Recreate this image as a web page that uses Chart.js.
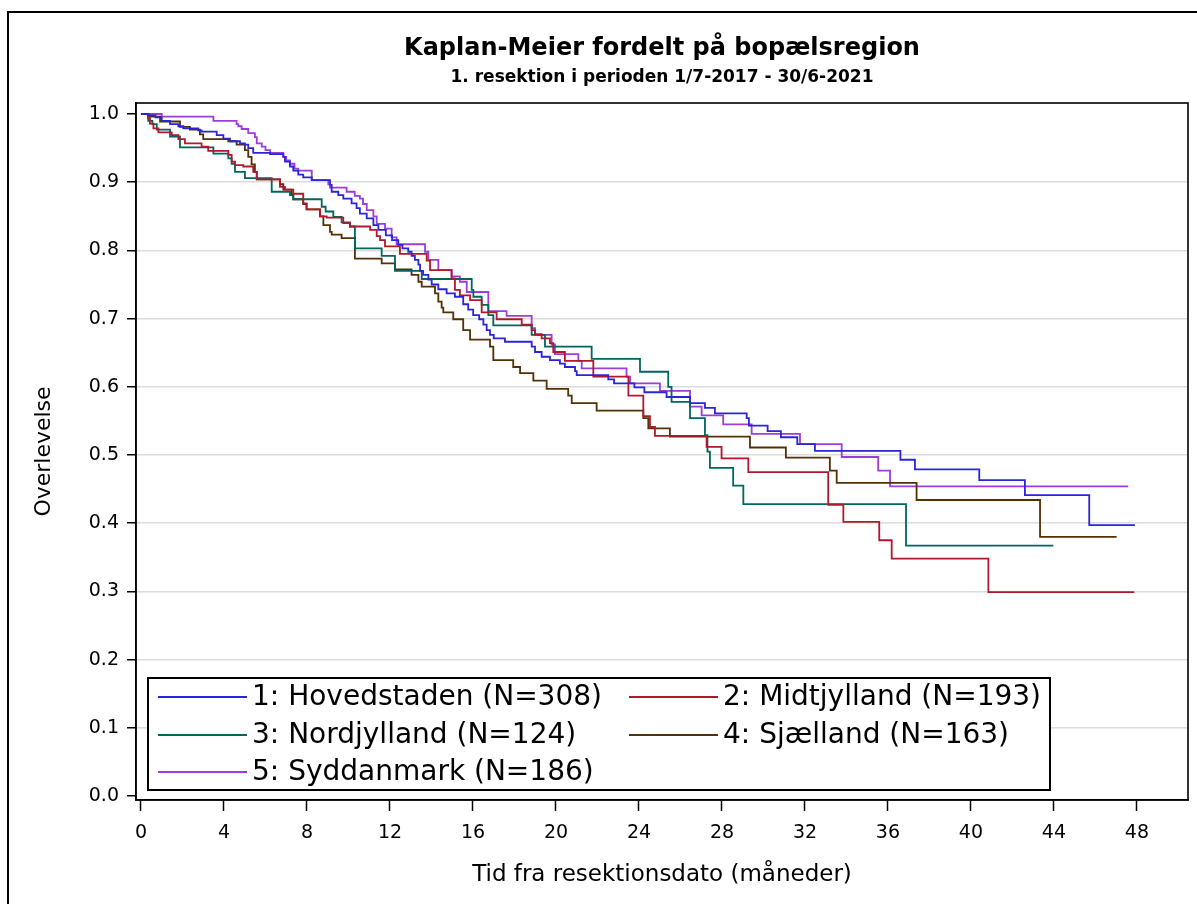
<!DOCTYPE html>
<html>
<head>
<meta charset="utf-8">
<title>Kaplan-Meier fordelt på bopælsregion</title>
<script src="https://cdn.jsdelivr.net/npm/chart.js@4.4.1/dist/chart.umd.min.js"></script>
<style>
  html, body { margin: 0; padding: 0; background: #fff; overflow: hidden; }
  #frame { position: absolute; left: 7px; top: 11px; width: 1300px; height: 1000px; border: 2px solid #000; }
  #km { position: absolute; left: 0; top: 0; z-index: 1; }
</style>
</head>
<body>
<div id="frame"></div>
<canvas id="km" width="1197" height="904"></canvas>
<script>
// ======
// data: [months, survival]
// ======
var hovedstaden = [[0,1],[0.35,0.998],[0.7,0.995],[1.0,0.99],[1.4,0.985],[1.8,0.982],[2.04,0.979],[2.76,0.976],[2.92,0.974],[3.65,0.969],[3.97,0.964],[4.29,0.96],[4.77,0.957],[5.01,0.955],[5.17,0.95],[5.41,0.943],[6.22,0.941],[6.86,0.937],[6.94,0.93],[7.18,0.923],[7.34,0.917],[7.58,0.911],[7.82,0.907],[8.23,0.903],[9.11,0.896],[9.19,0.886],[9.51,0.881],[9.75,0.876],[10.15,0.869],[10.39,0.862],[10.55,0.854],[10.88,0.847],[11.2,0.837],[11.44,0.83],[11.8,0.822],[12.1,0.815],[12.4,0.808],[12.6,0.803],[12.88,0.798],[13.04,0.792],[13.2,0.786],[13.37,0.779],[13.45,0.77],[13.6,0.764],[13.85,0.757],[14.01,0.75],[14.33,0.743],[14.73,0.737],[15.13,0.732],[15.53,0.721],[15.77,0.713],[16.01,0.705],[16.3,0.699],[16.5,0.691],[16.66,0.683],[16.82,0.676],[17.0,0.671],[17.54,0.666],[18.83,0.659],[18.99,0.651],[19.31,0.644],[19.71,0.639],[20.19,0.634],[20.43,0.629],[20.92,0.623],[21.0,0.617],[22.52,0.611],[22.8,0.605],[23.78,0.599],[24.26,0.592],[25.33,0.585],[26.46,0.576],[27.18,0.569],[27.66,0.561],[29.19,0.554],[29.3,0.543],[30.2,0.535],[30.84,0.526],[31.63,0.516],[32.48,0.506],[36.6,0.493],[37.3,0.479],[40.4,0.463],[42.6,0.441],[45.7,0.397],[47.9,0.397]];

var midtjylland = [[0,1],[0.35,0.994],[0.43,0.986],[0.6,0.979],[0.84,0.973],[1.48,0.969],[1.8,0.963],[2.12,0.957],[2.92,0.952],[3.24,0.946],[4.21,0.94],[4.37,0.93],[4.53,0.925],[4.93,0.923],[5.41,0.915],[5.58,0.904],[6.7,0.893],[6.94,0.889],[7.34,0.883],[7.82,0.869],[7.98,0.86],[8.63,0.85],[8.95,0.848],[9.75,0.84],[10.07,0.835],[11.04,0.83],[11.36,0.821],[11.52,0.815],[11.76,0.806],[12.48,0.795],[13.77,0.785],[13.93,0.771],[14.97,0.759],[15.13,0.742],[15.37,0.734],[15.86,0.727],[16.42,0.709],[17.14,0.699],[18.35,0.691],[18.83,0.683],[18.99,0.677],[19.31,0.671],[19.71,0.664],[19.87,0.651],[20.43,0.638],[21.8,0.615],[23.49,0.587],[24.21,0.557],[24.53,0.541],[24.77,0.528],[27.26,0.512],[27.98,0.495],[29.27,0.475],[33.12,0.427],[33.85,0.402],[35.58,0.375],[36.18,0.348],[40.84,0.299],[47.87,0.299]];

var nordjylland = [[0,1],[0.35,0.99],[0.55,0.985],[0.76,0.977],[1.4,0.967],[1.88,0.951],[3.49,0.942],[4.21,0.935],[4.37,0.927],[4.53,0.915],[5.01,0.906],[6.3,0.886],[7.18,0.881],[7.34,0.875],[8.71,0.864],[8.9,0.857],[9.27,0.849],[9.67,0.841],[10.07,0.835],[10.31,0.803],[11.6,0.792],[12.24,0.77],[13.53,0.758],[15.94,0.742],[16.02,0.732],[16.42,0.72],[16.74,0.705],[16.98,0.69],[18.83,0.676],[19.47,0.659],[21.72,0.641],[24.05,0.622],[25.41,0.6],[25.57,0.578],[26.46,0.554],[27.18,0.529],[27.3,0.505],[27.42,0.481],[28.54,0.455],[29.03,0.428],[36.87,0.367],[43.97,0.367]];

var sjaelland = [[0,1],[0.35,0.996],[0.92,0.989],[1.88,0.981],[2.36,0.977],[2.84,0.97],[3.0,0.963],[4.21,0.96],[4.61,0.955],[5.01,0.947],[5.17,0.937],[5.33,0.926],[5.49,0.915],[5.58,0.904],[6.7,0.897],[6.86,0.889],[7.26,0.882],[7.34,0.875],[7.82,0.868],[7.98,0.86],[8.63,0.85],[8.79,0.837],[9.11,0.827],[9.19,0.823],[9.67,0.818],[10.31,0.788],[11.6,0.781],[12.24,0.772],[13.04,0.764],[13.37,0.754],[13.53,0.747],[14.17,0.737],[14.33,0.725],[14.49,0.716],[14.57,0.709],[15.05,0.699],[15.53,0.683],[15.86,0.669],[16.82,0.659],[16.98,0.639],[17.94,0.629],[18.27,0.62],[18.91,0.609],[19.55,0.597],[20.59,0.587],[20.76,0.576],[21.96,0.565],[24.21,0.554],[24.45,0.539],[25.49,0.527],[29.35,0.511],[31.08,0.496],[33.2,0.477],[33.53,0.459],[37.38,0.434],[43.33,0.38],[47.02,0.38]];

var syddanmark = [[0,1],[1.0,0.996],[3.49,0.99],[4.61,0.985],[4.69,0.982],[4.85,0.978],[5.17,0.972],[5.49,0.966],[5.58,0.957],[5.82,0.952],[6.0,0.947],[6.22,0.943],[6.86,0.937],[7.0,0.932],[7.18,0.927],[7.4,0.92],[7.58,0.917],[8.23,0.903],[9.03,0.897],[9.11,0.892],[9.91,0.886],[10.3,0.88],[10.55,0.876],[10.7,0.868],[10.88,0.859],[11.2,0.85],[11.36,0.839],[11.76,0.832],[12.08,0.819],[12.32,0.809],[13.69,0.798],[13.85,0.786],[14.33,0.771],[14.97,0.762],[15.37,0.754],[15.7,0.739],[16.74,0.711],[17.62,0.704],[18.83,0.686],[18.99,0.676],[19.79,0.662],[19.95,0.648],[21.08,0.638],[21.24,0.627],[23.4,0.615],[23.57,0.605],[25.01,0.594],[26.46,0.571],[27.02,0.558],[28.06,0.545],[29.43,0.531],[31.76,0.516],[33.77,0.497],[35.53,0.477],[36.1,0.454],[47.58,0.454]];

var regionNames = ["1: Hovedstaden (N=308)", "2: Midtjylland (N=193)", "3: Nordjylland (N=124)", "4: Sjælland (N=163)", "5: Syddanmark (N=186)"];
var regionColors = ['#2A25D9', '#B2182B', '#01665E', '#543005', '#9D3CDB'];
var xTicks = [0, 4, 8, 12, 16, 20, 24, 28, 32, 36, 40, 44, 48];
var yTicks = [0, 0.1, 0.2, 0.3, 0.4, 0.5, 0.6, 0.7, 0.8, 0.9, 1.0];

var FONT = '"DejaVu Sans", sans-serif';
Chart.defaults.font.family = FONT;
Chart.defaults.color = '#000';

function toPoints(rows) {
    return rows.map(function (r) { return { x: r[0], y: r[1] }; });
}

var allSeries = [hovedstaden, midtjylland, nordjylland, sjaelland, syddanmark];

// title, legend box and plot frame
var decor = {
    id: 'decor',
    afterDatasetsDraw: function (chart) {
        var ctx = chart.ctx, a = chart.chartArea;
        ctx.save();
        // legend box
        var bx = a.left + 12, by = 678, bw = 902, bh = 112;
        ctx.fillStyle = '#fff';
        ctx.fillRect(bx, by, bw, bh);
        ctx.strokeStyle = '#000';
        ctx.lineWidth = 2;
        ctx.strokeRect(bx, by, bw, bh);
        var cols = [bx + 10, bx + 481];
        var rows = [697, 735, 772];
        ctx.font = '28px ' + FONT;
        ctx.textBaseline = 'middle';
        ctx.textAlign = 'left';
        regionNames.forEach(function (name, i) {
            var cx = cols[i % 2], cy = rows[Math.floor(i / 2)];
            ctx.strokeStyle = regionColors[i];
            ctx.lineWidth = 2;
            ctx.beginPath();
            ctx.moveTo(cx, cy);
            ctx.lineTo(cx + 89, cy);
            ctx.stroke();
            ctx.fillStyle = '#000';
            ctx.fillText(name, cx + 94, cy + 1);
        });
        ctx.restore();
    },
    afterDraw: function (chart) {
        var ctx = chart.ctx, a = chart.chartArea;
        var mid = (a.left + a.right) / 2;
        ctx.save();
        ctx.strokeStyle = '#000';
        ctx.lineWidth = 1.6;
        ctx.strokeRect(a.left, a.top, a.right - a.left, a.bottom - a.top);
        ctx.fillStyle = '#000';
        ctx.textAlign = 'center';
        ctx.textBaseline = 'alphabetic';
        ctx.font = 'bold 24px ' + FONT;
        ctx.fillText('Kaplan-Meier fordelt på bopælsregion', mid, 55);
        ctx.font = 'bold 17px ' + FONT;
        ctx.fillText('1. resektion i perioden 1/7-2017 - 30/6-2021', mid, 82);
        ctx.restore();
    }
};

var ctx = document.getElementById('km').getContext('2d');
var chart = new Chart(ctx, {
    type: 'line',
    data: {
        datasets: allSeries.map(function (rows, i) {
            return {
                label: regionNames[i],
                data: toPoints(rows),
                borderColor: regionColors[i],
                borderWidth: 1.8,
                stepped: true,
                pointRadius: 0,
                fill: false
            };
        })
    },
    options: {
        responsive: false,
        animation: false,
        devicePixelRatio: 1,
        layout: { padding: { left: 0, top: 103, right: 9, bottom: 0 } },
        plugins: { legend: { display: false }, tooltip: { enabled: false } },
        scales: {
            x: {
                type: 'linear',
                min: -0.24,
                max: 50.46,
                afterBuildTicks: function (s) { s.ticks = xTicks.map(function (v) { return { value: v }; }); },
                afterFit: function (s) { s.height = 104; },
                grid: { drawOnChartArea: false, tickLength: 11, tickColor: '#000', tickWidth: 1.5 },
                border: { display: true, color: '#000', width: 1.6 },
                ticks: { color: '#000', font: { size: 19 }, padding: 11, maxRotation: 0, autoSkip: false },
                title: { display: true, text: 'Tid fra resektionsdato (måneder)', color: '#000', font: { size: 23 }, padding: { top: 0, bottom: 15 } }
            },
            y: {
                type: 'linear',
                min: -0.0059,
                max: 1.0161,
                afterBuildTicks: function (s) { s.ticks = yTicks.map(function (v) { return { value: v }; }); },
                afterFit: function (s) { s.width = 136; },
                grid: {
                    color: function (c) {
                        var v = c.tick ? c.tick.value : 0;
                        return (v > 0.05 && v < 0.95) ? '#dcdcdc' : 'rgba(0,0,0,0)';
                    },
                    lineWidth: 1.5,
                    tickLength: 9,
                    tickColor: '#000',
                    tickWidth: 1.5
                },
                border: { display: true, color: '#000', width: 1.6 },
                ticks: { color: '#000', font: { size: 19 }, padding: 8, callback: function (v) { return v.toFixed(1); } },
                title: { display: true, text: 'Overlevelse', color: '#000', font: { size: 22 }, padding: { top: 31, bottom: 0 } }
            }
        }
    },
    plugins: [decor]
});
</script>
</body>
</html>
